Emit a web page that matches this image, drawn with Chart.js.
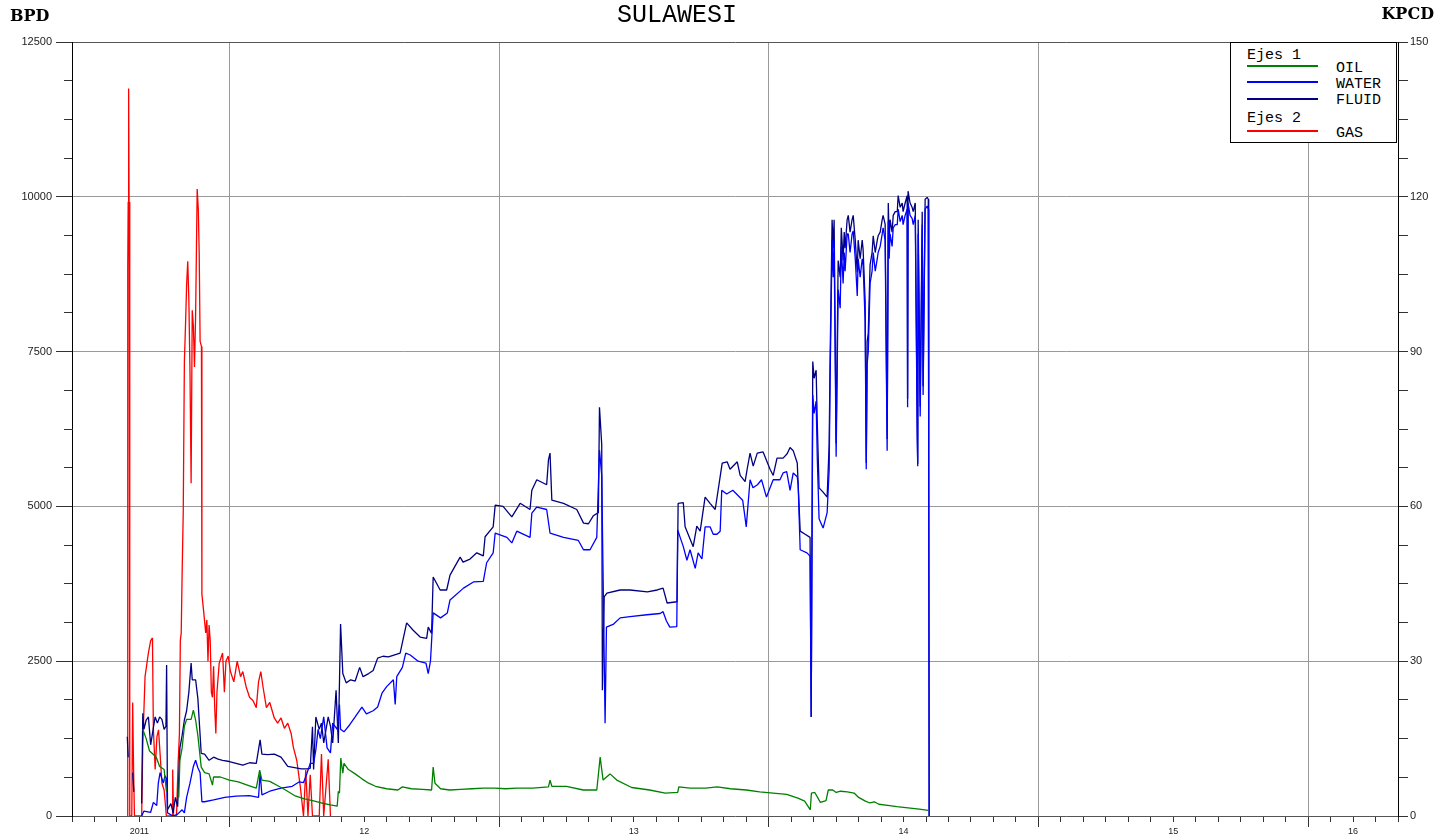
<!DOCTYPE html>
<html>
<head>
<meta charset="utf-8">
<title>SULAWESI</title>
<script src="https://cdn.jsdelivr.net/npm/chart.js@4.4.0/dist/chart.umd.min.js"></script>
<style>
  body { margin: 0; background: #fff; }
  #marco { position: relative; width: 1434px; height: 837px; overflow: hidden; }
  #grafico { position: absolute; left: 0; top: 0; }
  .titulo { position: absolute; white-space: nowrap; line-height: 1; color: #000; }
  #leyenda { position: absolute; left: 1230px; top: 42px; width: 165px; height: 99px; border: 1px solid #000; background: #fff; font: 15px "Liberation Mono", monospace; color: #000; }
  #leyenda span { position: absolute; line-height: 1; white-space: nowrap; }
  #leyenda b { position: absolute; display: block; left: 16px; width: 71px; height: 0; border-top-width: 2px; border-top-style: solid; }
</style>
</head>
<body>
<div id="marco">
  <canvas id="grafico" width="1434" height="837"></canvas>
  <div class="titulo" style="left:10px;top:6px;font:bold 16px 'DejaVu Serif', serif;">BPD</div>
  <div class="titulo" style="left:617px;top:1px;font:25px 'Liberation Mono', monospace;">SULAWESI</div>
  <div class="titulo" style="right:0;top:4px;font:bold 16px 'DejaVu Serif', serif;">KPCD</div>
  <div id="leyenda">
    <span style="left:16px;top:5px;">Ejes 1</span>
    <b style="top:22px;border-top-color:#008000;"></b>
    <span style="left:105px;top:18px;">OIL</span>
    <b style="top:38px;border-top-color:#0000ff;"></b>
    <span style="left:105px;top:34px;">WATER</span>
    <b style="top:55px;border-top-color:#000080;"></b>
    <span style="left:105px;top:50px;">FLUID</span>
    <span style="left:16px;top:68px;">Ejes 2</span>
    <b style="top:87px;border-top-color:#ff0000;"></b>
    <span style="left:105px;top:83px;">GAS</span>
  </div>
</div>
<script>
// Eje X en meses contados desde el 1 de enero de 2011 (12 = enero 2012)
const rangoMeses = [5, 64];
const etiquetasX = ['2011', '12', '13', '14', '15', '16'];
const posEtiquetasX = [8, 18, 30, 42, 54, 62];
const limitesAnio = [12, 24, 36, 48, 60];

// Eje izquierdo BPD, eje derecho KPCD
const marcasBPD = [0, 2500, 5000, 7500, 10000, 12500];
const maxBPD = 12500;
const maxKPCD = 150;
const pasoKPCD = 30;

// GAS (KPCD)
const mesesGas = [7.45, 7.48, 7.50, 7.52, 7.54, 7.57, 7.66, 7.70, 7.74, 7.78, 8.10, 8.15, 8.25, 8.40, 8.50, 8.58, 8.62, 8.70, 8.78, 8.85,
  8.92, 9.00, 9.10, 9.20, 9.45, 9.48, 9.52, 9.65, 9.72, 9.78, 9.82, 9.86, 9.90, 9.95, 10.00, 10.05, 10.10, 10.15, 10.20, 10.25,
  10.30, 10.35, 10.40, 10.45, 10.50, 10.57, 10.62, 10.66, 10.70, 10.76, 10.78, 10.85, 10.95, 11.00, 11.05, 11.10, 11.15, 11.20, 11.25, 11.30,
  11.35, 11.40, 11.45, 11.55, 11.70, 11.78, 11.85, 11.95, 12.05, 12.20, 12.35, 12.50, 12.60, 12.75, 12.90, 13.05, 13.20, 13.30, 13.40, 13.50,
  13.65, 13.80, 14.00, 14.15, 14.30, 14.45, 14.60, 14.75, 14.85, 15.00, 15.15, 15.30, 15.40, 15.50, 15.60, 15.70, 16.00, 16.10, 16.20, 16.40, 16.50];
const gas = [0, 106, 119, 141, 119, 0, 0, 22, 9, 0, 0, 14, 27, 31.6, 34, 34.5, 17, 9, 15.4, 16.7,
  12, 6.4, 5, 0, 0, 9, 0, 0, 10, 16, 34, 35.5, 47, 59, 88, 95, 103, 107.5, 100, 86,
  64.5, 98, 95, 87, 97, 121.5, 117.6, 109, 92, 91, 43, 40, 35.5, 38, 30, 37, 34, 24, 23, 29,
  21, 16, 24, 29.6, 31.6, 24, 30, 31, 28, 26, 30, 27, 28, 25, 23, 22.4, 21, 26, 28, 25,
  21, 22, 19, 18, 19, 17, 18, 16, 13.3, 10.8, 6, 0, 8.9, 0, 8, 0, 0, 12, 0, 11, 0];

// OIL (BPD)
const mesesOil = [8.15, 8.30, 8.45, 8.60, 8.75, 8.90, 9.10, 9.20, 9.22, 9.75, 9.80, 9.90, 10.00, 10.10, 10.30, 10.40, 10.50, 10.60, 10.75, 10.90,
  11.10, 11.25, 11.30, 11.60, 12.00, 12.40, 12.80, 13.20, 13.35, 13.45, 13.80, 14.20, 14.50, 14.90, 15.30, 15.70, 16.10, 16.50, 16.80, 16.85,
  16.90, 16.96, 17.05, 17.10, 17.30, 17.60, 17.90, 18.20, 18.50, 19.00, 19.50, 19.70, 20.10, 20.60, 21.00, 21.07, 21.15, 21.40, 21.80, 22.30,
  22.80, 23.30, 23.80, 24.30, 24.79, 25.50, 26.20, 26.27, 26.35, 27.00, 27.75, 28.35, 28.50, 28.63, 28.94, 29.24, 29.90, 30.70, 31.40, 31.95,
  32.00, 32.50, 33.20, 33.70, 34.30, 35.00, 35.60, 36.20, 36.80, 37.30, 37.60, 37.85, 37.90, 38.05, 38.30, 38.55, 38.65, 38.85, 39.00, 39.20,
  39.50, 39.80, 40.00, 40.30, 40.50, 40.70, 40.90, 41.30, 41.70, 42.20, 42.70, 43.10];
const oil = [1400, 1250, 1050, 1000, 950, 800, 750, 400, null, 300, 900, 1100, 1450, 1560, 1560, 1710, 1550, 1300, 790, 700,
  680, 500, 630, 630, 580, 550, 500, 450, 740, 580, 560, 480, 420, 330, 280, 250, 210, 180, 160, 400,
  370, 935, 690, 850, 750, 680, 600, 530, 480, 440, 420, 470, 440, 430, 420, 790, 530, 440, 420, 430,
  440, 450, 450, 440, 450, 450, 470, 580, 480, 480, 420, 420, 950, 580, 680, 580, 460, 420, 370, 380,
  470, 450, 450, 470, 440, 420, 390, 370, 350, 290, 240, 100, 370, 380, 220, 250, 420, 420, 380, 400,
  390, 370, 300, 240, 210, 230, 190, 170, 150, 130, 110, 90];

// WATER (BPD)
const mesesWater = [8.10, 8.20, 8.50, 8.62, 8.77, 8.84, 8.92, 9.06, 9.14, 9.21, 9.25, 9.50, 9.70, 9.90, 10.00, 10.10, 10.25, 10.40, 10.50, 10.60,
  10.70, 10.78, 10.90, 11.30, 11.80, 12.30, 12.90, 13.30, 13.37, 13.45, 13.80, 14.30, 14.80, 15.10, 15.30, 15.40, 15.60, 15.75, 15.85, 15.95,
  16.05, 16.20, 16.35, 16.50, 16.60, 16.80, 16.90, 16.95, 17.10, 17.35, 17.60, 17.90, 18.10, 18.40, 18.60, 18.80, 19.00, 19.30, 19.38, 19.45,
  19.70, 19.85, 20.05, 20.40, 20.75, 20.85, 20.95, 21.07, 21.40, 21.70, 21.82, 22.42, 22.86, 23.30, 23.45, 23.74, 23.83, 24.35, 24.57, 24.79,
  25.38, 25.46, 25.68, 26.12, 26.27, 26.87, 27.53, 27.76, 28.05, 28.35, 28.47, 28.57, 28.72, 28.78, 29.10, 29.39, 29.83, 30.58, 31.17, 31.30,
  31.45, 31.60, 31.91, 31.95, 32.06, 32.20, 32.36, 32.50, 32.73, 32.86, 33.03, 33.17, 33.39, 33.53, 33.70, 33.84, 33.91, 34.13, 34.40, 34.57,
  34.84, 34.92, 35.00, 35.17, 35.30, 35.50, 35.68, 35.90, 36.06, 36.20, 36.50, 36.64, 36.80, 36.95, 37.09, 37.27, 37.31, 37.40, 37.70, 37.84,
  37.89, 37.96, 38.02, 38.11, 38.16, 38.24, 38.42, 38.60, 38.69, 38.73, 38.82, 38.87, 38.91, 39.00, 39.09, 39.18, 39.23, 39.31, 39.36, 39.40,
  39.49, 39.54, 39.62, 39.71, 39.76, 39.85, 39.94, 39.98, 40.07, 40.16, 40.20, 40.29, 40.34, 40.38, 40.43, 40.51, 40.60, 40.65, 40.74, 40.83,
  40.87, 40.96, 41.05, 41.09, 41.18, 41.27, 41.32, 41.36, 41.40, 41.49, 41.54, 41.63, 41.72, 41.76, 41.85, 41.94, 41.98, 42.07, 42.16, 42.18,
  42.20, 42.29, 42.38, 42.43, 42.52, 42.61, 42.63, 42.65, 42.74, 42.83, 42.87, 42.96, 43.05, 43.10, 43.12, 43.14];
const water = [0, 80, 60, 220, 170, 530, 700, 530, 650, 600, 50, 0, 30, 100, 50, 300, 530, 800, 900, 780,
  700, 230, 230, 260, 300, 320, 330, 300, 700, 340, 400, 450, 480, 550, 540, 630, 850, 850, 1070, 1400,
  1250, 1600, 1100, 1020, 1500, 1400, 1800, 1400, 1360, 1470, 1600, 1760, 1650, 1700, 1760, 1990, 2090, 2200, 1800, 2250,
  2400, 2630, 2600, 2500, 2470, 2300, 2500, 3280, 3200, 3280, 3490, 3680, 3780, 3790, 4090, 4250, 4570, 4500, 4410, 4600,
  4500, 4890, 4990, 4950, 4570, 4500, 4450, 4300, 4300, 4500, 5910, 5500, 1500, 3050, 3100, 3200, 3220, 3250, 3270, 3300,
  3150, 3050, 3060, 4620, 4500, 4350, 4130, 4300, 4000, 4250, 4150, 4670, 4670, 4550, 4550, 4600, 5260, 5200, 5260, 5200,
  5100, 4890, 4670, 5430, 5300, 5350, 5430, 5150, 5300, 5430, 5430, 5540, 5560, 5260, 5540, 5480, 5350, 4300, 4250, 4200,
  1600, 6800, 6500, 6700, 5800, 4800, 4650, 4900, 5600, 7000, 9300, 8700, 9300, 5800, 8500, 8200, 9200, 8600, 9100, 8800,
  9400, 9400, 9100, 9400, 9450, 9000, 8400, 9000, 8700, 9000, 8900, 8000, 5600, 7300, 7500, 8600, 8800, 9100, 8800, 9000,
  9100, 9200, 9400, 9500, 9300, 5900, 9600, 9000, 9400, 9200, 9500, 9550, 9550, 9800, 9600, 9700, 9550, 9700, 9800, 6600,
  9900, 9700, 9650, 9550, 9700, 6100, 5650, 9400, 6450, 9550, 6800, 9800, 9850, 9800, 5900, 0];

// FLUID (BPD)
const mesesFluid = [7.46, 7.50, 7.52, 7.70, 7.75, 7.78, 8.10, 8.15, 8.20, 8.30, 8.40, 8.50, 8.60, 8.70, 8.80, 8.90, 9.00, 9.10, 9.18, 9.21,
  9.25, 9.40, 9.50, 9.60, 9.70, 9.80, 9.90, 10.00, 10.10, 10.20, 10.30, 10.35, 10.50, 10.60, 10.75, 10.90, 11.10, 11.30, 11.50, 11.70,
  12.00, 12.30, 12.60, 12.90, 13.20, 13.37, 13.45, 13.70, 14.00, 14.30, 14.60, 14.90, 15.20, 15.45, 15.60, 15.70, 15.75, 15.85, 16.00, 16.10,
  16.20, 16.40, 16.50, 16.60, 16.75, 16.85, 16.95, 17.05, 17.20, 17.40, 17.60, 17.80, 17.95, 18.20, 18.40, 18.60, 18.84, 19.08, 19.60, 19.89,
  20.18, 20.49, 20.78, 20.85, 21.00, 21.07, 21.38, 21.67, 21.82, 22.27, 22.40, 22.71, 23.01, 23.30, 23.38, 23.74, 23.83, 24.18, 24.57, 24.94,
  25.38, 25.46, 25.68, 26.12, 26.20, 26.27, 26.35, 26.87, 27.46, 27.76, 27.98, 28.20, 28.42, 28.47, 28.57, 28.60, 28.68, 28.80, 29.39, 29.83,
  30.60, 31.04, 31.30, 31.48, 31.92, 31.97, 32.20, 32.28, 32.64, 32.80, 32.95, 33.17, 33.39, 33.62, 33.93, 34.15, 34.28, 34.60, 34.73, 34.95,
  35.04, 35.17, 35.31, 35.49, 35.75, 36.06, 36.20, 36.37, 36.64, 36.82, 36.95, 37.09, 37.27, 37.40, 37.62, 37.84,
  37.89, 37.96, 38.02, 38.11, 38.16, 38.24, 38.42, 38.60, 38.69, 38.73, 38.82, 38.87, 38.91, 39.00, 39.09, 39.18, 39.23, 39.31, 39.36, 39.40,
  39.49, 39.54, 39.62, 39.71, 39.76, 39.85, 39.94, 39.98, 40.07, 40.16, 40.20, 40.29, 40.34, 40.38, 40.43, 40.51, 40.60, 40.65, 40.74, 40.83,
  40.87, 40.96, 41.05, 41.09, 41.18, 41.27, 41.32, 41.36, 41.40, 41.49, 41.54, 41.63, 41.72, 41.76, 41.85, 41.94, 41.98, 42.07, 42.16, 42.18,
  42.20, 42.29, 42.38, 42.43, 42.52, 42.61, 42.63, 42.65, 42.74, 42.83, 42.87, 42.96, 43.05, 43.10, 43.12, 43.14];
const fluid = [1280, 950, null, 700, 390, null, 200, 1660, 1400, 1550, 1600, 1150, 1380, 1600, 1500, 1600, 1560, 1400, 1450, 2440,
  100, 200, 50, 300, 150, 1100, 1300, 1550, 1700, 2000, 2470, 2200, 2200, 1900, 1010, 1000, 900, 950, 920, 900,
  880, 850, 820, 860, 850, 1230, 1000, 990, 1000, 950, 800, 780, 760, 760, 770, 1440, 750, 1600, 1400, 1500,
  1180, 1600, 1450, 1180, 2030, 1180, 3100, 2300, 2150, 2200, 2180, 2400, 2250, 2300, 2350, 2550, 2580, 2570, 2630, 3120,
  3000, 2890, 2870, 3050, 2950, 3860, 3650, 3650, 3890, 4180, 4100, 4150, 4250, 4200, 4510, 4670, 5020, 5000, 4830, 5050,
  4950, 5260, 5430, 5350, 5750, 5860, 5100, 5050, 4950, 4730, 4720, 4850, 4900, 6600, 6000, 2030, 3540, 3600, 3650, 3650,
  3620, 3650, 3680, 3440, 3460, 5050, 5060, 4670, 4350, 4680, 4600, 5150, 5050, 4950, 5700, 5720, 5600, 5720, 5500, 5400,
  5600, 5860, 5650, 5860, 5880, 5600, 5500, 5780, 5780, 5850, 5950, 5900, 5700, 4600, 4550, 4500,
  1600, 7340, 7070, 7200, 6350, 5300, 5230, 5150, 6000, 7330, 9630, 9170, 9630, 6020, 8970, 8700, 9500, 8970, 9430, 9170,
  9630, 9700, 9430, 9630, 9700, 9300, 8780, 9300, 9000, 9300, 9150, 8320, 5700, 7660, 7800, 8900, 9100, 9370, 9100, 9300,
  9370, 9430, 9630, 9700, 9560, 6090, 9900, 9300, 9630, 9430, 9700, 9760, 9760, 10020, 9830, 9900, 9760, 9900, 10020, 6740,
  10090, 9900, 9830, 9760, 9900, 6220, 5690, 9630, 6610, 9760, 6940, 9960, 9990, 9960, 6020, 0];

const puntos = (xs, ys) => xs.map((x, i) => ({ x: x, y: ys[i] }));
const valoresTicks = (arr) => (scale) => { scale.ticks = arr.map(v => ({ value: v })); };

// marcas menores: cada mes en X, cada 625 BPD y cada 7.5 KPCD
const marcasMes = [];
for (let m = rangoMeses[0]; m <= rangoMeses[1]; m++) marcasMes.push(m);
const marcasBPDMenor = [];
for (let v = 0; v <= maxBPD; v += 625) marcasBPDMenor.push(v);
const marcasKPCD = [];
for (let v = 0; v <= maxKPCD; v += 7.5) marcasKPCD.push(v);

const fuenteEje = { family: 'Liberation Sans', size: 11 };
const lineaBase = { borderWidth: 1.3, pointRadius: 0, tension: 0, fill: false, spanGaps: false, borderJoinStyle: 'bevel', xAxisID: 'x' };

new Chart(document.getElementById('grafico'), {
  type: 'line',
  data: {
    datasets: [
      Object.assign({ label: 'OIL', data: puntos(mesesOil, oil), borderColor: '#008000', yAxisID: 'y' }, lineaBase),
      Object.assign({ label: 'WATER', data: puntos(mesesWater, water), borderColor: '#0000ff', yAxisID: 'y' }, lineaBase),
      Object.assign({ label: 'FLUID', data: puntos(mesesFluid, fluid), borderColor: '#000080', yAxisID: 'y' }, lineaBase),
      Object.assign({ label: 'GAS', data: puntos(mesesGas, gas), borderColor: '#ff0000', yAxisID: 'y2' }, lineaBase)
    ]
  },
  options: {
    responsive: false,
    animation: false,
    layout: { padding: { top: 42, left: 0, right: 0, bottom: 0 } },
    plugins: { legend: { display: false }, tooltip: { enabled: false } },
    scales: {
      x: {
        type: 'linear', position: 'bottom', weight: 1,
        min: rangoMeses[0], max: rangoMeses[1],
        afterBuildTicks: valoresTicks(marcasMes),
        afterFit: s => { s.height = 21; },
        grid: { drawOnChartArea: false, tickLength: 6, tickColor: '#333' },
        border: { display: false },
        ticks: {
          autoSkip: false, maxRotation: 0, padding: 4, color: '#222',
          font: { family: 'Liberation Sans', size: 9 },
          callback: v => { const i = posEtiquetasX.indexOf(v); return i < 0 ? '' : etiquetasX[i]; }
        }
      },
      xAnio: {
        type: 'linear', position: 'bottom', weight: 0,
        min: rangoMeses[0], max: rangoMeses[1],
        afterBuildTicks: valoresTicks(limitesAnio),
        afterFit: s => { s.height = 0; },
        grid: { color: '#9a9a9a', tickLength: 11, tickColor: '#333' },
        border: { display: false },
        ticks: { display: false }
      },
      y: {
        type: 'linear', position: 'left', weight: 1,
        min: 0, max: maxBPD,
        afterBuildTicks: valoresTicks(marcasBPD),
        afterFit: s => { s.width = 72; },
        grid: {
          color: c => (c.tick && (c.tick.value === 0 || c.tick.value === maxBPD)) ? '#555' : '#9a9a9a',
          tickLength: 16, tickColor: '#333'
        },
        border: { color: '#000', width: 1 },
        ticks: { autoSkip: false, padding: 4, color: '#222', font: fuenteEje, callback: v => String(v) }
      },
      yMenor: {
        type: 'linear', position: 'left', weight: 0,
        min: 0, max: maxBPD,
        afterBuildTicks: valoresTicks(marcasBPDMenor),
        afterFit: s => { s.width = 0; },
        grid: { drawOnChartArea: false, tickLength: 8, tickColor: '#333' },
        border: { display: false },
        ticks: { display: false }
      },
      y2: {
        type: 'linear', position: 'right', weight: 1,
        min: 0, max: maxKPCD,
        afterBuildTicks: valoresTicks(marcasKPCD),
        afterFit: s => { s.width = 36; },
        grid: { drawOnChartArea: false, tickLength: 10, tickColor: '#333' },
        border: { color: '#000', width: 1 },
        ticks: { autoSkip: false, padding: 2, color: '#222', font: fuenteEje, callback: v => (v % pasoKPCD === 0 ? String(v) : '') }
      }
    }
  }
});
</script>
</body>
</html>
